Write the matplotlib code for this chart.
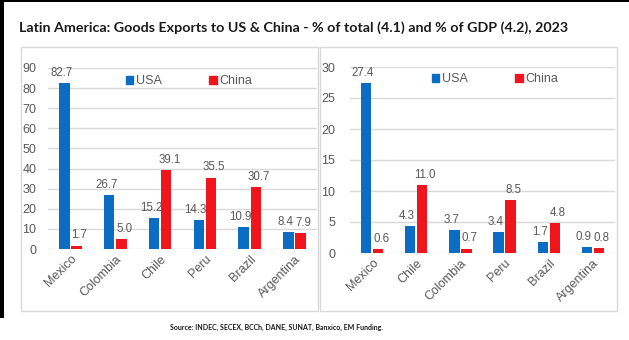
import matplotlib
matplotlib.use("Agg")
import matplotlib.pyplot as plt
from matplotlib.patches import Rectangle, Patch
import numpy as np

title = "Latin America: Goods Exports to US & China - % of total (4.1) and % of GDP (4.2), 2023"
source = "Source: INDEC, SECEX, BCCh, DANE, SUNAT, Banxico, EM Funding."

cats_total = ["Mexico", "Colombia", "Chile", "Peru", "Brazil", "Argentina"]
usa_total = [82.7, 26.7, 15.2, 14.3, 10.9, 8.4]
china_total = [1.7, 5.0, 39.1, 35.5, 30.7, 7.9]

cats_gdp = ["Mexico", "Chile", "Colombia", "Peru", "Brazil", "Argentina"]
usa_gdp = [27.4, 4.3, 3.7, 3.4, 1.7, 0.9]
china_gdp = [0.6, 11.0, 0.7, 8.5, 4.8, 0.8]

BLUE = "#0A6CC2"
RED = "#F0141C"
GRAY = "#595959"
GRID = "#D9D9D9"
FONT = "Liberation Sans"

W, H = 629, 340
fig = plt.figure(figsize=(W / 100, H / 100), dpi=100)
fig.patch.set_facecolor("white")

def px(x0, y0, x1, y1):
    return [x0 / W, 1 - y1 / H, (x1 - x0) / W, (y1 - y0) / H]

# frame decorations
fig.patches.append(Rectangle((0, 1 - 318 / H), 4 / W, 318 / H, transform=fig.transFigure,
                             facecolor="black", edgecolor="none", zorder=-5))
fig.patches.append(Rectangle((0, 1 - 2 / H), 1, 2 / H, transform=fig.transFigure,
                             facecolor="black", edgecolor="none", zorder=-5))
for (x0, x1) in [(21, 318), (320, 617)]:
    fig.patches.append(Rectangle((x0 / W, 1 - 311 / H), (x1 - x0) / W, (311 - 47) / H,
                                 transform=fig.transFigure, facecolor="none",
                                 edgecolor=GRID, linewidth=1.0, zorder=-5))

fig.text(19 / W, 1 - 28 / H, title, fontsize=10.3, fontfamily="Lato", fontweight="bold",
         color="#1a1a1a", va="center", ha="left")
fig.text(276 / W, 1 - 327 / H, source, fontsize=5, fontfamily="Lato", fontweight="bold",
         color="#1a1a1a", va="center", ha="center")

def panel(rect, cats, usa, china, ymax, step, leg_x, leg_y, pad):
    ax = fig.add_axes(rect)
    ax.set_facecolor("none")
    x = np.arange(len(cats))
    w = 0.235
    off = 0.135
    b1 = ax.bar(x - off, usa, w, color=BLUE, zorder=3, label="USA")
    b2 = ax.bar(x + off, china, w, color=RED, zorder=3, label="China")
    for bars, vals, dx in [(b1, usa, -2.2), (b2, china, 2.2)]:
        for b, v in zip(bars, vals):
            ax.annotate(f"{v:.1f}", (b.get_x() + b.get_width() / 2, v),
                        xytext=(dx, 3), textcoords="offset points", ha="center", va="bottom",
                        fontsize=8.3, color=GRAY, fontfamily=FONT, zorder=4)
    ax.set_xlim(-0.5, len(cats) - 0.5)
    ax.set_ylim(0, ymax)
    ax.set_yticks(np.arange(0, ymax + 0.01, step))
    ax.yaxis.grid(True, color=GRID, linewidth=1.0, zorder=0)
    ax.set_axisbelow(True)
    for s in ax.spines.values():
        s.set_visible(False)
    ax.tick_params(axis="y", length=0, pad=pad, labelsize=9, labelcolor=GRAY)
    ax.tick_params(axis="x", length=0, pad=3, labelsize=9, labelcolor=GRAY)
    ax.set_xticks(x)
    ax.set_xticklabels(cats, rotation=45, ha="right", rotation_mode="anchor", fontfamily=FONT)
    for t in ax.get_yticklabels():
        t.set_fontfamily(FONT)
    handles = [Patch(color=BLUE, label="USA"), Patch(color=RED, label="China")]
    leg = ax.legend(handles=handles, loc="center", bbox_to_anchor=(leg_x, leg_y), ncol=2,
                    frameon=False, handlelength=0.6, handleheight=0.6, handletextpad=0.2,
                    columnspacing=3.8, prop={"family": FONT, "size": 9})
    for t in leg.get_texts():
        t.set_color(GRAY)
    return ax

panel(px(48, 68, 317, 249), cats_total, usa_total, china_total, 90, 10, 0.524, 0.928, 8.5)
panel(px(350, 67, 615, 253), cats_gdp, usa_gdp, china_gdp, 30, 5, 0.547, 0.935, 10.5)

fig.savefig("out.png", dpi=100, facecolor="white")
